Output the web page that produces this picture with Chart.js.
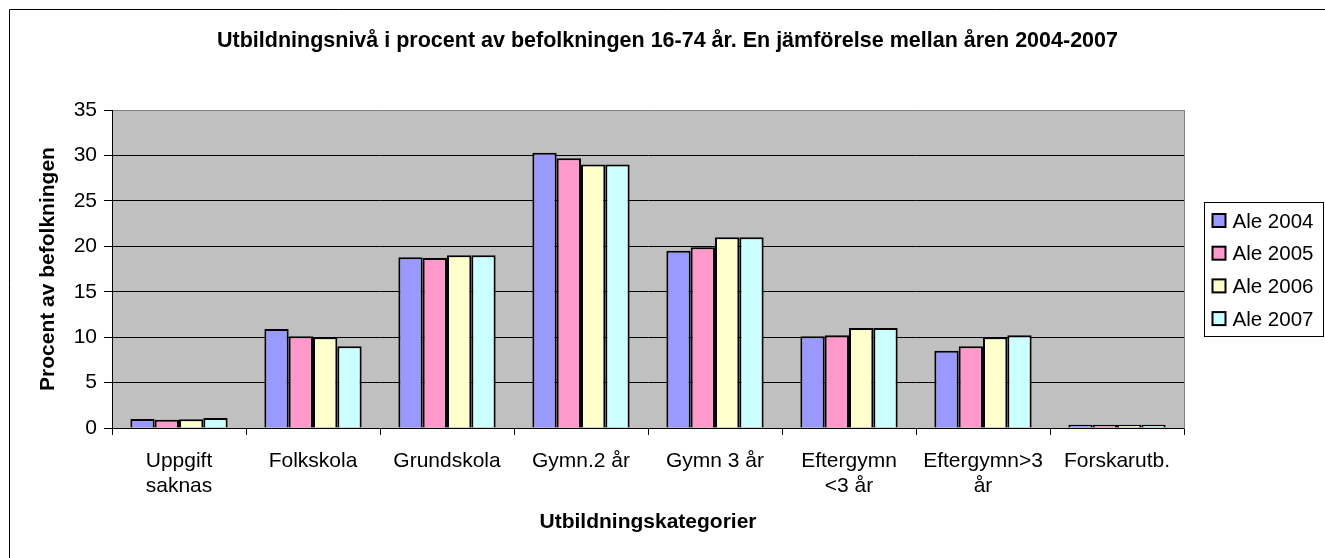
<!DOCTYPE html>
<html>
<head>
<meta charset="utf-8">
<title>Utbildningsnivå</title>
<script src="https://cdn.jsdelivr.net/npm/chart.js@4/dist/chart.umd.min.js"></script>
<style>
  html, body { margin: 0; padding: 0; background: #fff; }
  #wrap { width: 1325px; height: 558px; position: relative; }
</style>
</head>
<body>
<div id="wrap"><canvas id="eduChart"></canvas></div>
<script>
const categories = [
  ['Uppgift', 'saknas'], 'Folkskola', 'Grundskola', 'Gymn.2 år',
  'Gymn 3 år', ['Eftergymn', '<3 år'], ['Eftergymn>3', 'år'], 'Forskarutb.'
];
const seriesNames = ['Ale 2004', 'Ale 2005', 'Ale 2006', 'Ale 2007'];
const ale2004 = [1.0, 10.9, 18.8, 30.3, 19.5, 10.1, 8.5, 0.35];
const ale2005 = [0.9, 10.1, 18.7, 29.7, 19.9, 10.2, 9.0, 0.35];
const ale2006 = [0.95, 10.0, 19.0, 29.0, 21.0, 11.0, 10.0, 0.35];
const ale2007 = [1.1, 9.0, 19.0, 29.0, 21.0, 11.0, 10.2, 0.35];
const seriesColors = ['#9999FF', '#FF99CC', '#FFFFCC', '#CCFFFF'];

const FONT = "'Liberation Sans', Arial, sans-serif";

// grey plot area + outer frame
const background = {
  id: 'background',
  beforeDraw(chart) {
    const { ctx, chartArea: a } = chart;
    ctx.save();
    ctx.fillStyle = '#C0C0C0';
    ctx.fillRect(a.left, a.top, a.right - a.left, a.bottom - a.top);
    ctx.strokeStyle = '#000';
    ctx.lineWidth = 1;
    ctx.beginPath();
    ctx.moveTo(9.5, chart.height);
    ctx.lineTo(9.5, 9.5);
    ctx.lineTo(chart.width, 9.5);
    ctx.stroke();
    ctx.restore();
  }
};

// boxed legend to the right of the plot
const boxLegend = {
  id: 'boxLegend',
  afterDraw(chart) {
    const { ctx, chartArea: a } = chart;
    const left = a.right + 20.5;
    const width = 119;
    const height = 134;
    const top = Math.round((a.top + a.bottom) / 2 - height / 2) + 0.5;
    const step = 32.7;
    ctx.save();
    ctx.strokeStyle = '#000';
    ctx.lineWidth = 1;
    ctx.strokeRect(left, top, width, height);
    ctx.font = '20.5px ' + FONT;
    ctx.textBaseline = 'middle';
    ctx.textAlign = 'left';
    chart.data.datasets.forEach((ds, i) => {
      const cy = top + 18.5 + i * step;
      ctx.fillStyle = ds.backgroundColor;
      ctx.fillRect(left + 8, cy - 7, 13, 13);
      ctx.lineWidth = 2;
      ctx.strokeStyle = '#000';
      ctx.strokeRect(left + 8, cy - 7, 13, 13);
      ctx.fillStyle = '#000';
      ctx.fillText(ds.label, left + 28, cy + 1);
    });
    ctx.restore();
  }
};

const datasets = [ale2004, ale2005, ale2006, ale2007].map((values, i) => ({
  label: seriesNames[i],
  data: values,
  backgroundColor: seriesColors[i],
  borderColor: '#000',
  borderWidth: 2,
  borderSkipped: 'start',
  categoryPercentage: 0.726,
  barPercentage: 1.0
}));

const ctx = document.getElementById('eduChart').getContext('2d');
new Chart(ctx, {
  type: 'bar',
  data: { labels: categories, datasets },
  plugins: [background, boxLegend],
  options: {
    responsive: true,
    maintainAspectRatio: false,
    animation: false,
    devicePixelRatio: 1,
    layout: { padding: { left: 10, top: 10, right: 0, bottom: 0 } },
    plugins: {
      legend: { display: false },
      tooltip: { enabled: false },
      title: {
        display: true,
        text: 'Utbildningsnivå i procent av befolkningen 16-74 år. En jämförelse mellan åren 2004-2007',
        color: '#000',
        font: { family: FONT, size: 21.5, weight: 'bold', lineHeight: 1.2 },
        padding: { top: 18.1, bottom: 56.1 }
      }
    },
    scales: {
      x: {
        grid: {
          display: true,
          drawOnChartArea: false,
          drawTicks: true,
          tickLength: 7,
          tickColor: '#000',
          offset: true
        },
        border: { display: true, color: '#000', width: 1 },
        ticks: {
          color: '#000',
          font: { family: FONT, size: 21, lineHeight: 1.2 },
          padding: 13.4,
          maxRotation: 0,
          autoSkip: false
        },
        title: {
          display: true,
          text: 'Utbildningskategorier',
          color: '#000',
          font: { family: FONT, size: 21, weight: 'bold', lineHeight: 1.2 },
          padding: { top: 0, bottom: 23.4 }
        },
        afterFit(scale) { scale.height = 130; }
      },
      y: {
        min: 0,
        max: 35,
        ticks: {
          stepSize: 5,
          color: '#000',
          font: { family: FONT, size: 21, lineHeight: 1.2 },
          padding: 7
        },
        grid: {
          color: (c) => (c.tick && c.tick.value === 35 ? '#808080' : '#000'),
          lineWidth: 1,
          drawTicks: true,
          tickLength: 8,
          tickColor: '#000'
        },
        border: { display: true, color: '#000', width: 1 },
        title: {
          display: true,
          text: 'Procent av befolkningen',
          color: '#000',
          font: { family: FONT, size: 21, weight: 'bold', lineHeight: 1.2 },
          padding: { top: 25.4, bottom: 0 }
        },
        afterFit(scale) { scale.width = 102; }
      },
      spacer: {
        type: 'linear',
        position: 'right',
        display: true,
        ticks: { display: false },
        grid: { display: false, drawTicks: false },
        border: { display: true, color: '#808080', width: 1 },
        afterFit(scale) { scale.width = 141; }
      }
    }
  }
});
</script>
</body>
</html>
